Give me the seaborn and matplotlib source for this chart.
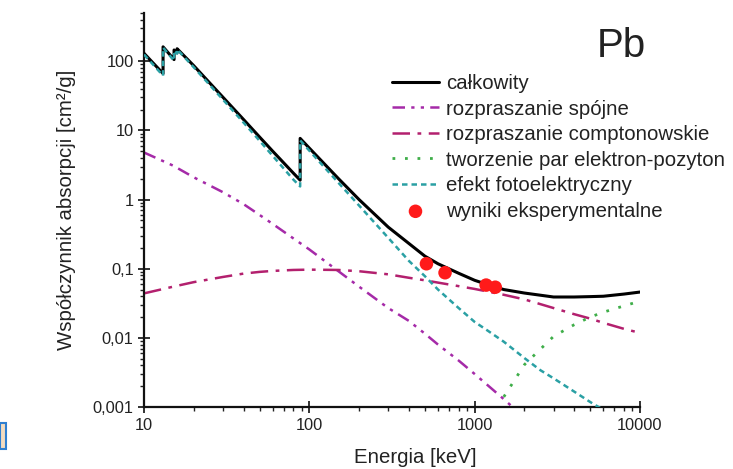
import numpy as np
import matplotlib
matplotlib.use("Agg")
import matplotlib.pyplot as plt
import matplotlib.ticker as mticker
from matplotlib.patches import Rectangle
import seaborn as sns

# energie [keV] i wspolczynniki [cm2/g] (Pb)
total_E = [10, 13.04, 13.04, 15, 15.2, 15.2, 15.86, 15.86, 20, 30, 40, 50, 60, 80, 88, 88,
           100, 150, 200, 300, 400, 500, 600, 800, 1000, 1250, 1500, 2000, 3000, 4000,
           5000, 6000, 8000, 10000]
total_mu = [130.6, 66.5, 162.0, 110.0, 106.0, 146.0, 133.0, 152.0, 86.4, 30.3, 14.4, 8.04,
            5.02, 2.42, 1.91, 7.68, 5.55, 2.01, 1.0, 0.40, 0.232, 0.152, 0.118, 0.086, 0.068,
            0.057, 0.050, 0.0445, 0.039, 0.039, 0.0395, 0.040, 0.043, 0.046]

coh_E = [10, 15, 20, 30, 40, 50, 60, 80, 100, 150, 200, 300, 400, 500, 600, 800, 1000,
         1500, 2000]
coh_mu = [4.8, 3.1, 2.1, 1.28, 0.86, 0.6, 0.445, 0.275, 0.19, 0.092, 0.055, 0.027, 0.0176,
          0.0115, 0.008, 0.0047, 0.003, 0.0013, 0.0007]

comp_E = [10, 15, 20, 30, 40, 50, 60, 80, 100, 150, 200, 300, 400, 500, 600, 800, 1000,
          1500, 2000, 3000, 4000, 5000, 6000, 8000, 10000]
comp_mu = [0.044, 0.055, 0.064, 0.076, 0.085, 0.09, 0.093, 0.096, 0.097, 0.096, 0.092,
           0.083, 0.074, 0.068, 0.063, 0.056, 0.051, 0.042, 0.036, 0.027, 0.022, 0.019,
           0.0165, 0.0135, 0.0118]

pair_E = [1500, 2000, 3000, 4000, 5000, 6000, 8000, 10000]
pair_mu = [0.0014, 0.0041, 0.0105, 0.0155, 0.020, 0.0235, 0.029, 0.034]

photo_E = [10, 13.04, 13.04, 15, 15.2, 15.2, 15.86, 15.86, 20, 30, 40, 50, 60, 80, 88, 88,
           100, 150, 200, 300, 400, 500, 600, 800, 1000, 1200, 1500, 2000, 2500, 3000,
           4000, 5000, 6000]
photo_mu = [125.5, 62.0, 158.0, 106.0, 102.0, 143.0, 129.0, 149.0, 82.0, 28.0, 13.0, 7.1,
            4.3, 1.95, 1.55, 7.2, 5.1, 1.75, 0.82, 0.28, 0.13, 0.078, 0.05, 0.027, 0.017,
            0.0127, 0.0088, 0.0051, 0.0034, 0.0026, 0.00167, 0.00118, 0.00091]

exp_E = [511, 662, 1173, 1332]
exp_mu = [0.118, 0.0875, 0.058, 0.054]

labels = ["całkowity", "rozpraszanie spójne", "rozpraszanie comptonowskie",
          "tworzenie par elektron-pozyton", "efekt fotoelektryczny", "wyniki eksperymentalne"]
ytick_vals = [0.001, 0.01, 0.1, 1, 10, 100]
ytick_labels = ["0,001", "0,01", "0,1", "1", "10", "100"]
xtick_vals = [10, 100, 1000, 10000]
xtick_labels = ["10", "100", "1000", "10000"]

sns.set_style("ticks")
plt.rcParams['font.family'] = ['Liberation Sans', 'DejaVu Sans']
plt.rcParams['text.color'] = '#222222'
plt.rcParams['axes.labelcolor'] = '#222222'
plt.rcParams['xtick.color'] = '#222222'
plt.rcParams['ytick.color'] = '#222222'

fig = plt.figure(figsize=(7.33, 4.69), dpi=100)
ax = fig.add_axes([144 / 733, 1 - 407 / 469, 496 / 733, 394 / 469])

sns.lineplot(x=total_E, y=total_mu, ax=ax, color="black", lw=2.2, sort=False,
             estimator=None, label=labels[0], zorder=3)
sns.lineplot(x=coh_E, y=coh_mu, ax=ax, color="#a52aa8", lw=1.8, sort=False,
             estimator=None, label=labels[1], linestyle=(0, (5, 2.5, 1.3, 2.5, 1.3, 2.5)))
sns.lineplot(x=comp_E, y=comp_mu, ax=ax, color="#b3206e", lw=1.8, sort=False,
             estimator=None, label=labels[2], linestyle=(0, (7, 3, 1.5, 3)))
sns.lineplot(x=pair_E, y=pair_mu, ax=ax, color="#3fae49", lw=2.0, sort=False,
             estimator=None, label=labels[3], linestyle=(0, (1, 3.5)))
sns.lineplot(x=photo_E, y=photo_mu, ax=ax, color="#2aa0a4", lw=1.8, sort=False,
             estimator=None, label=labels[4], linestyle=(0, (2.2, 1.6)), zorder=4)
sns.scatterplot(x=exp_E, y=exp_mu, ax=ax, color="#ff1a1a", s=95, edgecolor="none",
                label=labels[5], zorder=5)

ax.set_xscale("log")
ax.set_yscale("log")
ax.set_xlim(10, 10000)
ax.set_ylim(0.001, 500)
ax.set_xticks(xtick_vals, xtick_labels)
ax.set_yticks(ytick_vals, ytick_labels)
ax.xaxis.set_minor_locator(mticker.LogLocator(base=10, subs=np.arange(2, 10), numticks=20))
ax.yaxis.set_minor_locator(mticker.LogLocator(base=10, subs=np.arange(2, 10), numticks=20))
ax.xaxis.set_minor_formatter(mticker.NullFormatter())
ax.yaxis.set_minor_formatter(mticker.NullFormatter())
ax.tick_params(which="major", direction="inout", length=8, width=1.3, labelsize=11.8,
               bottom=True, left=True)
ax.tick_params(which="minor", direction="out", length=3, width=1.0, bottom=True, left=True)
ax.tick_params(axis="x", which="major", pad=4)

for side in ["top", "right"]:
    ax.spines[side].set_visible(False)
for side in ["left", "bottom"]:
    ax.spines[side].set_linewidth(1.6)
    ax.spines[side].set_color("#111111")

ax.set_xlabel("Energia [keV]", fontsize=14.7)
ax.set_ylabel("Współczynnik absorpcji [cm²/g]", fontsize=14.7)
ax.xaxis.set_label_coords(0.546, -0.104)
ax.yaxis.set_label_coords(-0.138, 0.5)

ax.legend(frameon=False, loc="upper left", bbox_to_anchor=(392 / 733, 1 - 74 / 469),
          bbox_transform=fig.transFigure, fontsize=14.7, handlelength=2.3,
          handletextpad=0.35, labelspacing=0.32, borderpad=0, borderaxespad=0)

fig.text(597 / 733, 1 - 57 / 469, "Pb", fontsize=29, va="baseline")

# kawalek sasiedniego obrazka przy lewej krawedzi
fig.add_artist(Rectangle((0, 1 - 449 / 469), 6 / 733, 26 / 469, transform=fig.transFigure,
                         facecolor="#f3dcc0", edgecolor="#2f7fd0", lw=1.5))

fig.savefig("out.png", dpi=100)
